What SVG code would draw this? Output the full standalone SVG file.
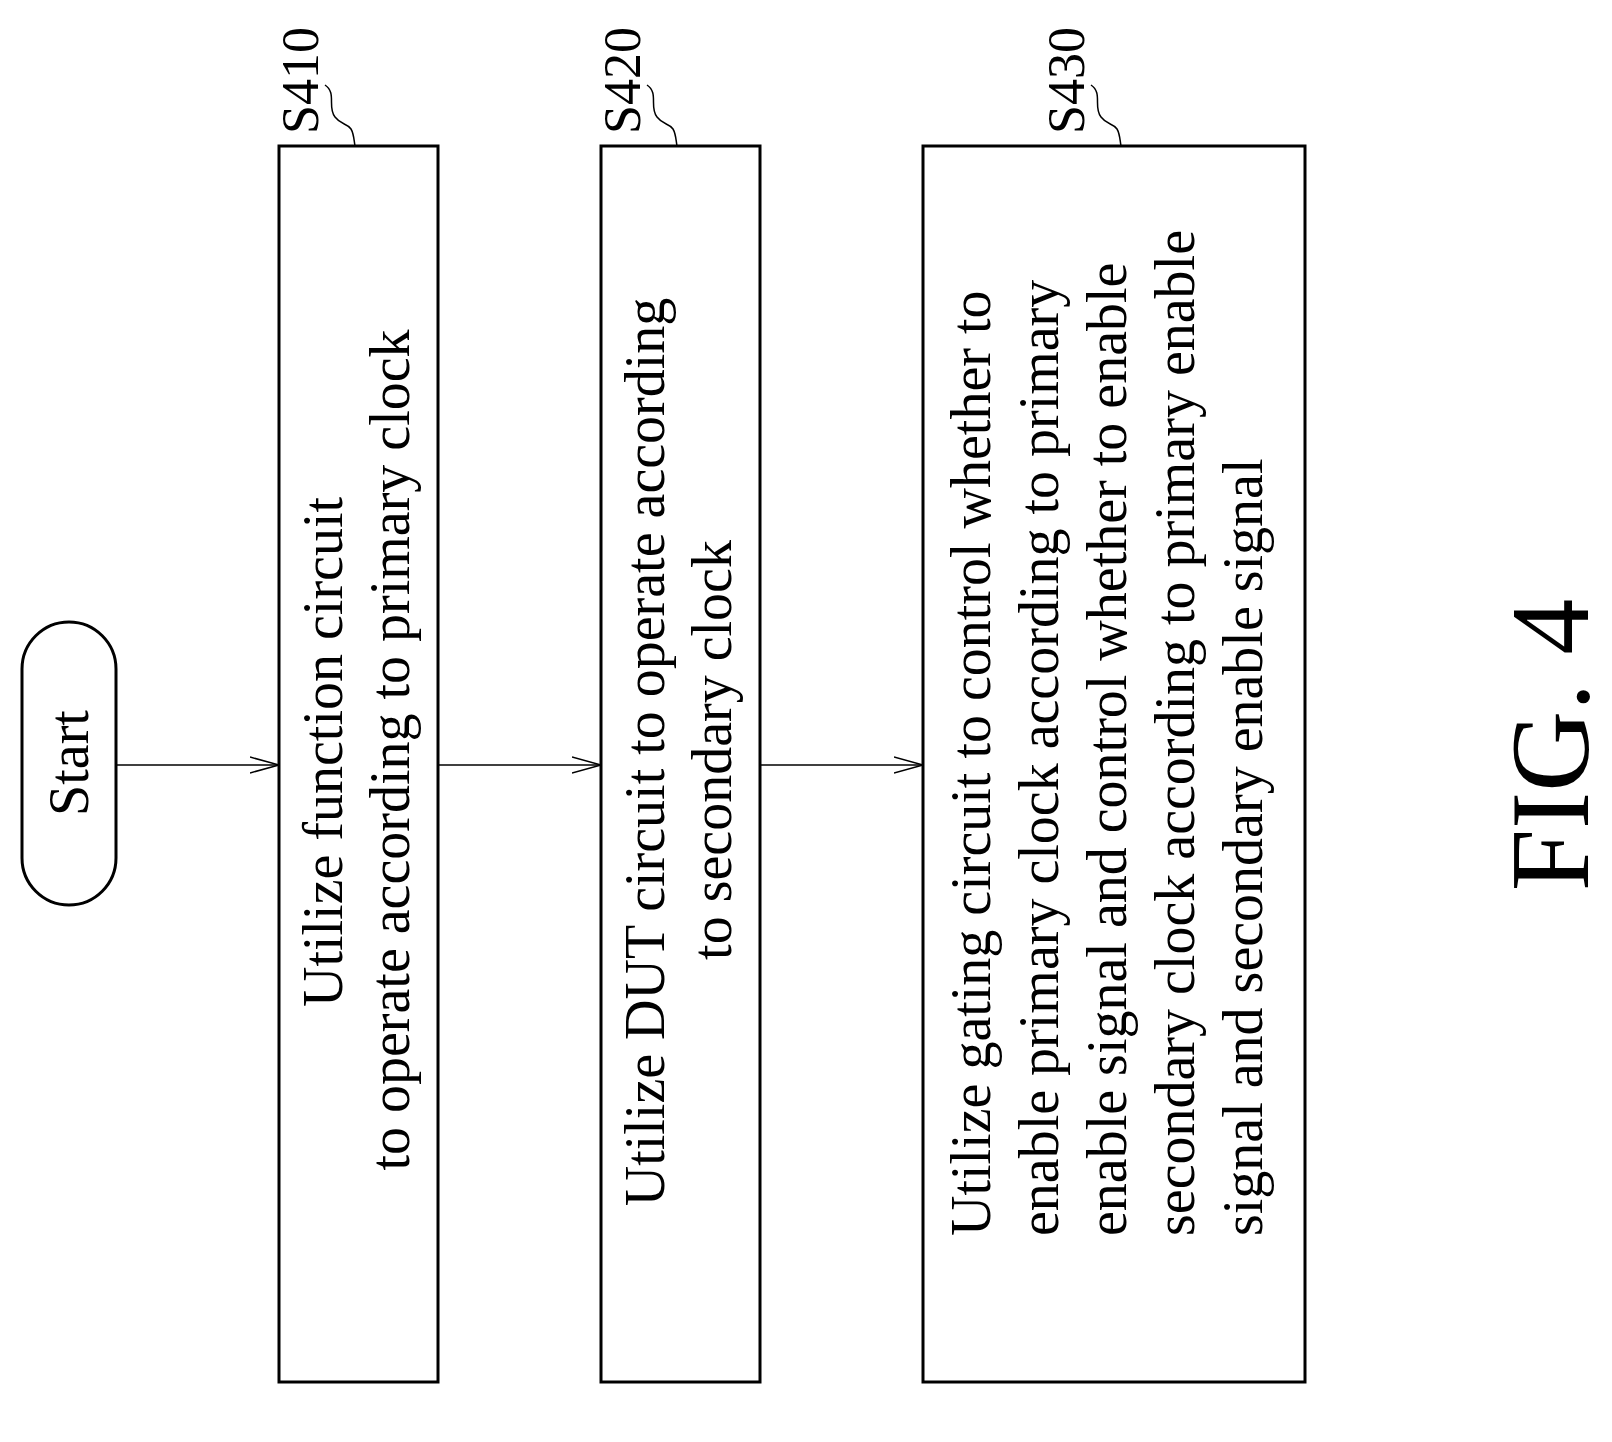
<svg xmlns="http://www.w3.org/2000/svg" width="1612" height="1442" viewBox="0 0 1612 1442">
<defs>
<style>
.b{fill:#fff;stroke:#000;stroke-width:3}
.t{font-family:"Liberation Serif",serif;font-size:56px;fill:#000}
.l{font-family:"Liberation Serif",serif;font-size:52px;fill:#000}
.c{fill:none;stroke:#000;stroke-width:1.5}
</style>
<marker id="a" markerWidth="30" markerHeight="20" refX="29" refY="10" orient="auto" markerUnits="userSpaceOnUse">
<path d="M0,2 L29,10 L0,18" fill="none" stroke="#000" stroke-width="1.5"/>
</marker>
</defs>
<rect width="1612" height="1442" fill="#fff"/>
<g id="start">
<rect class="b" x="22" y="622" width="94" height="283" rx="47"/>
<text class="t" transform="translate(88,763) rotate(-90)" text-anchor="middle">Start</text>
</g>
<g id="s410">
<rect class="b" x="279" y="146" width="159" height="1236"/>
<text class="t" transform="translate(342,752) rotate(-90)" text-anchor="middle">Utilize function circuit</text>
<text class="t" transform="translate(409,750) rotate(-90)" text-anchor="middle">to operate according to primary clock</text>
<text class="l" transform="translate(318,134) rotate(-90)">S410</text>
<path class="c" d="M325,85 c12,8 2,22 10,32 c6,8 12,6 16,12 c3,5 3,12 4,17"/>
</g>
<g id="s420">
<rect class="b" x="601" y="146" width="159" height="1236"/>
<text class="t" transform="translate(664,752) rotate(-90)" text-anchor="middle">Utilize DUT circuit to operate according</text>
<text class="t" transform="translate(731,750) rotate(-90)" text-anchor="middle">to secondary clock</text>
<text class="l" transform="translate(640,134) rotate(-90)">S420</text>
<path class="c" d="M647,85 c12,8 2,22 10,32 c6,8 12,6 16,12 c3,5 3,12 4,17"/>
</g>
<g id="s430">
<rect class="b" x="923" y="146" width="382" height="1236"/>
<text class="t" transform="translate(990,1236) rotate(-90)">Utilize gating circuit to control whether to</text>
<text class="t" transform="translate(1058,1236) rotate(-90)">enable primary clock according to primary</text>
<text class="t" transform="translate(1126,1236) rotate(-90)">enable signal and control whether to enable</text>
<text class="t" transform="translate(1194,1236) rotate(-90)">secondary clock according to primary enable</text>
<text class="t" transform="translate(1262,1236) rotate(-90)">signal and secondary enable signal</text>
<text class="l" transform="translate(1084,134) rotate(-90)">S430</text>
<path class="c" d="M1091,85 c12,8 2,22 10,32 c6,8 12,6 16,12 c3,5 3,12 4,17"/>
</g>
<g id="connectors">
<line class="c" x1="116" y1="765" x2="279" y2="765" marker-end="url(#a)"/>
<line class="c" x1="438" y1="765" x2="601" y2="765" marker-end="url(#a)"/>
<line class="c" x1="760" y1="765" x2="923" y2="765" marker-end="url(#a)"/>
</g>
<text font-family="Liberation Serif,serif" font-size="112" transform="translate(1588,745) rotate(-90)" text-anchor="middle">FIG. 4</text>
</svg>
